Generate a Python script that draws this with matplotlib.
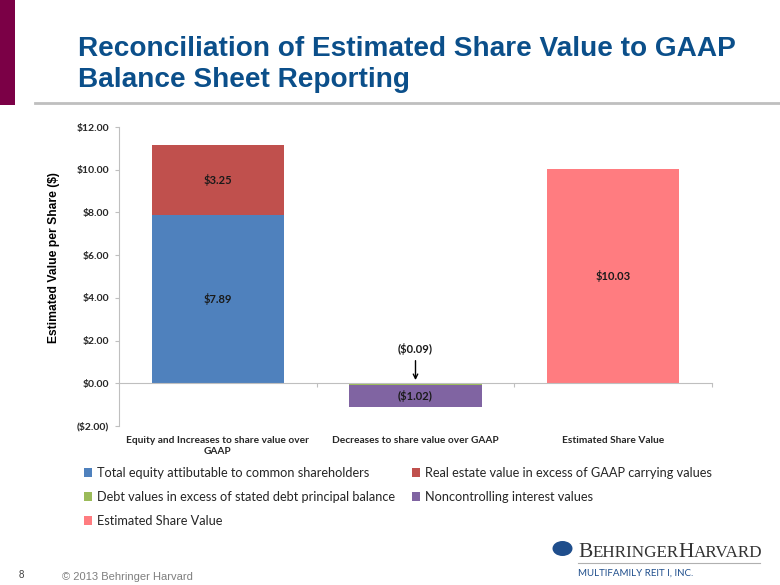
import matplotlib
matplotlib.use("Agg")
import matplotlib.pyplot as plt
from matplotlib.patches import Rectangle, Circle
from matplotlib.lines import Line2D
import matplotlib.transforms as mtransforms

categories = ["Equity and Increases to share value over\nGAAP",
              "Decreases to share value over GAAP",
              "Estimated Share Value"]
total_equity = [7.89, 0.0, 0.0]
real_estate = [3.25, 0.0, 0.0]
debt_excess = [0.0, -0.09, 0.0]
noncontrolling = [0.0, -1.02, 0.0]
estimated = [0.0, 0.0, 10.03]
yticks = [-2, 0, 2, 4, 6, 8, 10, 12]

series_names = ["Total equity attibutable to common shareholders",
                "Real estate value in excess of GAAP carrying values",
                "Debt values in excess of stated debt principal balance",
                "Noncontrolling interest values",
                "Estimated Share Value"]
colors = ["#4F81BD", "#C0504D", "#9BBB59", "#8064A2", "#FF7C80"]

CAL = "Lato"
W, H = 780, 585
fig = plt.figure(figsize=(W / 100, H / 100), dpi=100)

def fx(px):
    return px / W

def fy(py):
    return 1 - py / H

# decorative header
fig.patches.append(Rectangle((0, fy(105)), fx(15), 1 - fy(105), transform=fig.transFigure,
                             facecolor="#7B0046", edgecolor="none"))
fig.lines.append(Line2D([fx(35), 1], [fy(102.5), fy(102.5)], transform=fig.transFigure,
                        color="#BFBFBF", lw=2))
fig.text(fx(78), fy(56), "Reconciliation of Estimated Share Value to GAAP",
         family="Liberation Sans", weight="bold", fontsize=20.2, color="#0B4F8A", va="baseline")
fig.text(fx(78), fy(87), "Balance Sheet Reporting",
         family="Liberation Sans", weight="bold", fontsize=20.2, color="#0B4F8A", va="baseline")

left, right, top, bottom = 119, 712, 127, 426
ax = fig.add_axes([fx(left), fy(bottom), fx(right - left), fy(top) - fy(bottom)])

x = list(range(len(categories)))
bw = 0.67
b1 = ax.bar(x, total_equity, bw, color=colors[0], label=series_names[0])
b2 = ax.bar(x, real_estate, bw, bottom=total_equity, color=colors[1], label=series_names[1])
b3 = ax.bar(x, debt_excess, bw, color=colors[2], label=series_names[2])
b4 = ax.bar(x, noncontrolling, bw, bottom=debt_excess, color=colors[3], label=series_names[3])
b5 = ax.bar(x, estimated, bw, color=colors[4], label=series_names[4])

ax.set_xlim(-0.5, 2.5)
ax.set_ylim(-2, 12)
ax.set_yticks(yticks)
ax.set_yticklabels([f"${v:.2f}" if v >= 0 else f"(${-v:.2f})" for v in yticks],
                   family=CAL, weight="bold", fontsize=7.5, color="#262626")
ax.tick_params(axis="y", length=3, color="#BFBFBF", pad=4)
for s in ["top", "right"]:
    ax.spines[s].set_visible(False)
ax.spines["left"].set_color("#BFBFBF")
ax.spines["bottom"].set_position(("data", 0))
ax.spines["bottom"].set_color("#BFBFBF")
ax.set_xticks([0.5, 1.5, 2.5])
ax.set_xticklabels([])
ax.tick_params(axis="x", length=3, color="#BFBFBF", direction="out")

trans = mtransforms.blended_transform_factory(ax.transData, ax.transAxes)
for i, c in enumerate(categories):
    ax.text(i, -0.035, c, transform=trans, ha="center", va="top", family=CAL,
            weight="bold", fontsize=7.3, color="#262626", linespacing=1.15)

fig.text(fx(54), fy(258), "Estimated Value per Share ($)", family="Liberation Sans", weight="bold",
         fontsize=8.7, color="black", rotation=90, ha="center", va="center")

# data labels
lab = dict(ha="center", va="center", family=CAL, weight="bold", fontsize=8, color="#1a1a1a")
def money(v):
    return f"${v:.2f}" if v >= 0 else f"(${-v:.2f})"
ax.text(0, total_equity[0] / 2, money(total_equity[0]), **lab)
ax.text(0, total_equity[0] + real_estate[0] / 2, money(real_estate[0]), **lab)
ax.text(1, debt_excess[1] + noncontrolling[1] / 2, money(noncontrolling[1]), **lab)
ax.text(2, estimated[2] / 2, money(estimated[2]), **lab)
ax.annotate(money(debt_excess[1]), xy=(1, 0.15), xytext=(1, 1.6), ha="center", va="center",
            family=CAL, weight="bold", fontsize=8, color="#1a1a1a",
            arrowprops=dict(arrowstyle="->", color="black", lw=1.0, shrinkA=2, shrinkB=0))

# legend (row-wise order in two columns)
handles = [b1, b3, b5, b2, b4]
labels = [series_names[0], series_names[2], series_names[4], series_names[1], series_names[3]]
fig.legend(handles, labels, loc="upper left", bbox_to_anchor=(fx(84), fy(467)), ncol=2,
           frameon=False, prop={"family": CAL, "size": 9.2}, handlelength=0.65, handleheight=0.65,
           handletextpad=0.4, columnspacing=1.3, labelspacing=0.93, labelcolor="#262626",
           borderaxespad=0, borderpad=0)

# footer
fig.text(fx(19), fy(578), "8", family="Liberation Sans", fontsize=7, color="#404040", va="baseline")
fig.text(fx(62), fy(580), "\u00a9 2013 Behringer Harvard", family="Liberation Sans", fontsize=8,
         color="#7F7F7F", va="baseline")

# logo
navy = "#1F4E8C"
fig.patches.append(Circle((fx(562.5), fy(548.5)), fx(10), transform=fig.transFigure,
                          facecolor=navy, edgecolor="none"))
renderer = fig.canvas.get_renderer()
xpos = 578.0
for piece, size in [("B", 15.5), ("EHRINGER", 12.3), ("H", 15.5), ("ARVARD", 12.3)]:
    t = fig.text(fx(xpos), fy(557), piece, family="Liberation Serif", fontsize=size,
                 color="#333333", va="baseline")
    bb = t.get_window_extent(renderer)
    xpos += bb.width
fig.lines.append(Line2D([fx(578), fx(760)], [fy(563), fy(563)], transform=fig.transFigure,
                        color="#B0B0B0", lw=0.8))
fig.text(fx(578), fy(576), "MULTIFAMILY REIT I, INC.", family=CAL, fontsize=7, color=navy,
         va="baseline")

fig.savefig("out.png", dpi=100)
